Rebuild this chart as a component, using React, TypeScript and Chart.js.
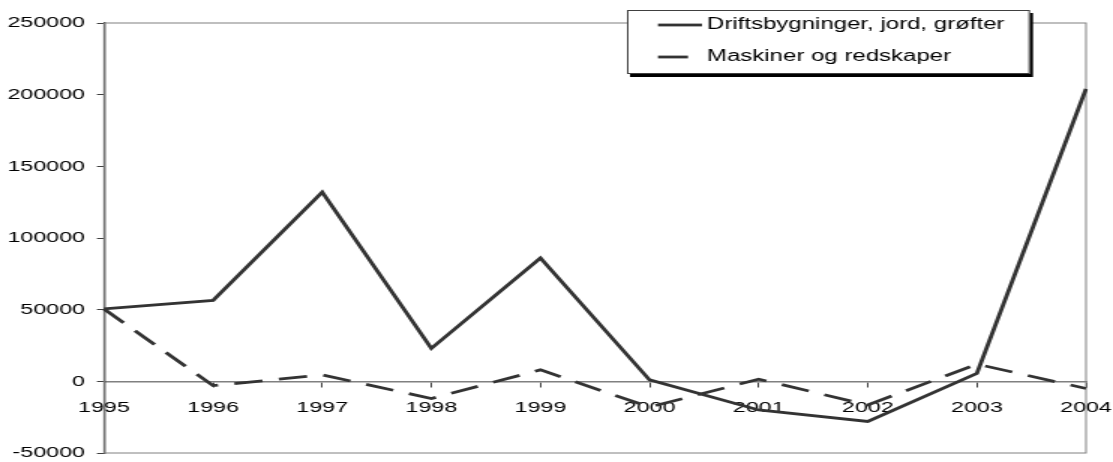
import React, { useEffect, useRef } from "react";
import { Chart, registerables } from "chart.js";

Chart.register(...registerables);

const years = ["1995", "1996", "1997", "1998", "1999", "2000", "2001", "2002", "2003", "2004"];
const driftsbygninger = [50500, 56500, 132000, 23000, 86000, 1000, -20000, -28000, 5500, 204000];
const maskiner = [50500, -3000, 4500, -12000, 8000, -18000, 1500, -16500, 12000, -5000];
const seriesNames = ["Driftsbygninger, jord, grøfter", "Maskiner og redskaper"];
const yMin = -50000;
const yMax = 250000;
const yStep = 50000;

const SX = 1.5; // horizontal stretch of the reference
const W = 1113;
const H = 462;
const IW = W / SX;
const FONT = "'Liberation Sans', Arial, sans-serif";
const LINE = "#333333";
const DASH = [19, 11];

const frame = {
  id: "frame",
  beforeDatasetsDraw(chart: any) {
    const { ctx, chartArea: a } = chart;
    ctx.save();
    ctx.strokeStyle = "#808080";
    ctx.lineWidth = 1;
    ctx.strokeRect(a.left, a.top, a.right - a.left, a.bottom - a.top);
    ctx.restore();
  },
};

const legendBox = {
  id: "legendBox",
  afterDraw(chart: any) {
    const { ctx } = chart;
    const x0 = 627 / SX;
    const x1 = 1030 / SX;
    const y0 = 10;
    const y1 = 74;
    ctx.save();
    ctx.fillStyle = "#000";
    ctx.fillRect(x0 + 2, y0 + 3, x1 - x0, y1 - y0);
    ctx.fillStyle = "#fff";
    ctx.fillRect(x0, y0, x1 - x0, y1 - y0);
    ctx.strokeStyle = "#404040";
    ctx.lineWidth = 1;
    ctx.strokeRect(x0 + 0.5, y0 + 0.5, x1 - x0 - 1, y1 - y0 - 1);
    const rows = [25, 57];
    ctx.strokeStyle = LINE;
    ctx.lineWidth = 2.8;
    ctx.lineCap = "butt";
    ctx.beginPath();
    ctx.moveTo(658 / SX, rows[0]);
    ctx.lineTo(702 / SX, rows[0]);
    ctx.stroke();
    ctx.beginPath();
    ctx.moveTo(658 / SX, rows[1]);
    ctx.lineTo(688 / SX, rows[1]);
    ctx.stroke();
    ctx.fillStyle = "#000";
    ctx.font = `16px ${FONT}`;
    ctx.textBaseline = "middle";
    ctx.textAlign = "left";
    ctx.fillText(seriesNames[0], 707 / SX, rows[0]);
    ctx.fillText(seriesNames[1], 707 / SX, rows[1]);
    ctx.restore();
  },
};

function noPadding(scale: any) {
  scale.paddingTop = 0;
  scale.paddingBottom = 0;
  scale.paddingLeft = 0;
  scale.paddingRight = 0;
}

export default function App() {
  const ref = useRef<HTMLCanvasElement | null>(null);
  useEffect(() => {
    document.body.style.margin = "0";
    const canvas = ref.current!;
    const chart = new Chart(canvas, {
      type: "line",
      data: {
        labels: years,
        datasets: [
          {
            label: seriesNames[0],
            data: driftsbygninger,
            borderColor: LINE,
            borderWidth: 2.8,
            pointRadius: 0,
            tension: 0,
            fill: false,
          },
          {
            label: seriesNames[1],
            data: maskiner,
            borderColor: LINE,
            borderWidth: 2.8,
            borderDash: DASH,
            pointRadius: 0,
            tension: 0,
            fill: false,
          },
        ],
      },
      options: {
        responsive: false,
        devicePixelRatio: 1,
        animation: false,
        events: [],
        layout: { padding: { left: 0, top: 23, right: IW - 1086 / SX, bottom: 9 } },
        plugins: { legend: { display: false }, tooltip: { enabled: false }, title: { display: false } },
        scales: {
          x: {
            type: "category",
            position: { y: 0 } as any,
            offset: false,
            afterFit: noPadding,
            grid: { drawOnChartArea: false, drawTicks: true, tickLength: 5, color: "#404040", lineWidth: 1 },
            border: { display: true, color: "#808080", width: 1.5 },
            ticks: {
              autoSkip: false,
              maxRotation: 0,
              minRotation: 0,
              padding: 12,
              color: "#000",
              font: { family: FONT, size: 15.5, lineHeight: 1.2 },
            },
          },
          y: {
            type: "linear",
            position: "left",
            min: yMin,
            max: yMax,
            afterFit(scale: any) {
              scale.width = 104 / SX;
              noPadding(scale);
            },
            grid: { drawOnChartArea: false, drawTicks: true, tickLength: 4.7, color: "#404040", lineWidth: 1 },
            border: { display: true, color: "#404040", width: 1.4 },
            ticks: {
              stepSize: yStep,
              padding: 8,
              color: "#000",
              font: { family: FONT, size: 15.5, lineHeight: 1 },
              callback: (v: any) => String(v),
            },
          },
        },
      },
      plugins: [frame, legendBox],
    });
    return () => chart.destroy();
  }, []);
  return (
    <div style={{ position: "absolute", left: 0, top: 0, width: W, height: H }}>
      <canvas
        ref={ref}
        width={IW}
        height={H}
        style={{ width: `${W}px`, height: `${H}px`, display: "block" }}
      />
    </div>
  );
}
